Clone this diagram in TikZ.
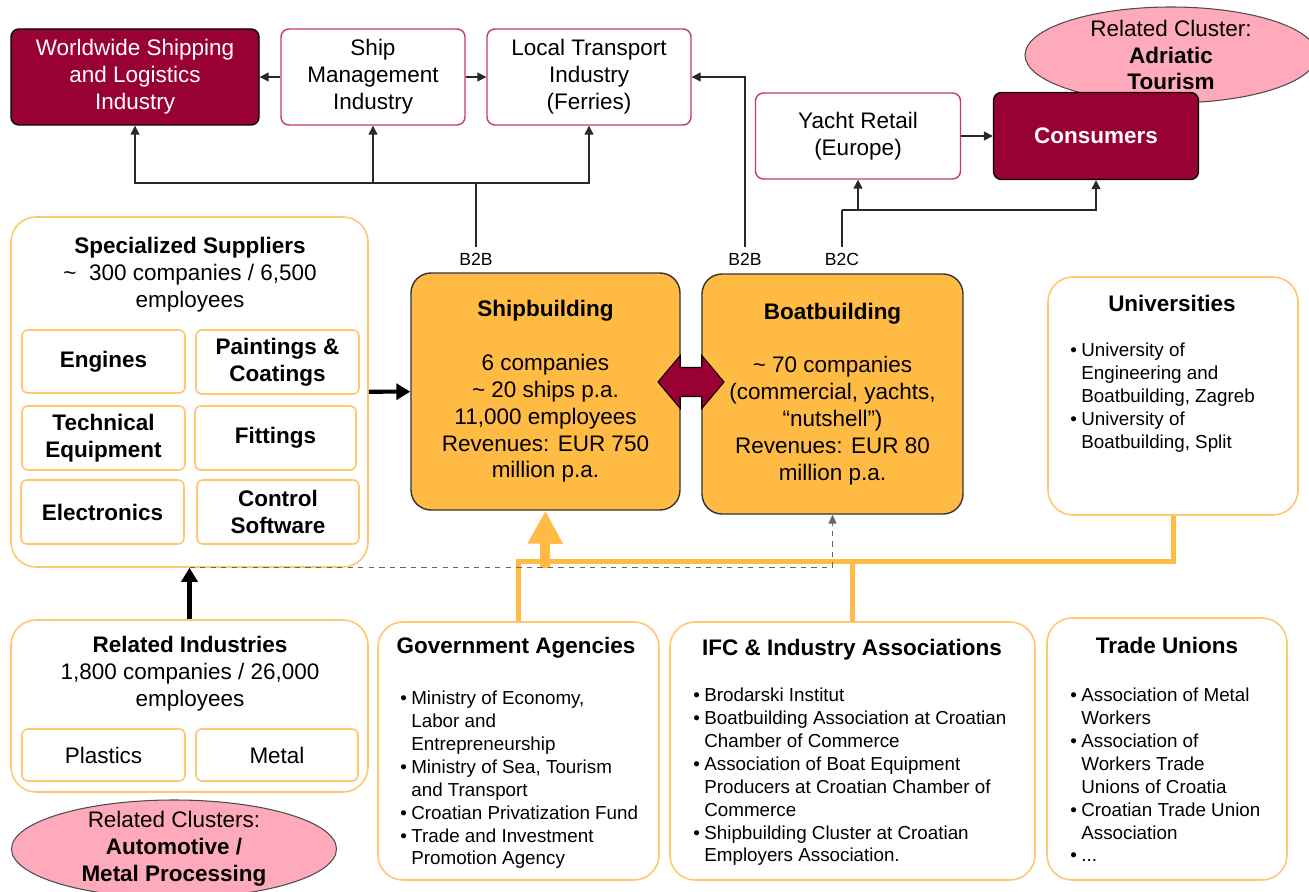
\documentclass[tikz,border=0pt]{standalone}
\usepackage{fontspec}
\setmainfont{Liberation Sans}
\usetikzlibrary{arrows.meta,shapes.geometric,shapes.arrows}

\definecolor{darkred}{RGB}{153,0,51}
\definecolor{boxred}{RGB}{200,60,85}
\definecolor{shipfill}{RGB}{255,187,68}
\definecolor{lightorange}{RGB}{255,200,110}
\definecolor{clusterpink}{RGB}{255,170,187}
\definecolor{linegray}{RGB}{40,40,40}

\newcommand{\mainfs}{\fontsize{12.8}{15.3}\selectfont}
\newcommand{\listfs}{\fontsize{10.7}{13}\selectfont}
\newcommand{\labfs}{\fontsize{10}{12}\selectfont}
\newcommand{\bul}{\makebox[0.22cm][l]{\textbullet}}
\newcommand{\ind}{\hspace*{0.22cm}}

\begin{document}
\begin{tikzpicture}[x=0.02cm,y=-0.02cm,
    wh/.style 2 args={minimum width=#1*0.02cm,minimum height=#2*0.02cm},
    darkbox/.style={draw=black,fill=darkred,text=white,rounded corners=0.16cm,align=center,font=\mainfs,line width=0.8pt},
    redbox/.style={draw=boxred,fill=white,rounded corners=0.16cm,align=center,font=\mainfs,line width=0.8pt},
    corebox/.style={draw=black!80,fill=shipfill,rounded corners=0.4cm,align=center,font=\mainfs,line width=0.8pt},
    groupbox/.style={draw=lightorange,fill=white,rounded corners=0.5cm,line width=0.9pt},
    itembox/.style={draw=lightorange,fill=white,rounded corners=0.12cm,align=center,font=\mainfs\bfseries,line width=0.9pt},
    plainitem/.style={itembox,font=\mainfs},
    cluster/.style={ellipse,draw=black!70,fill=clusterpink,inner sep=0pt,line width=0.6pt},
    title/.style={font=\mainfs\bfseries,inner sep=0pt},
    bullets/.style={anchor=north west,align=left,font=\listfs,inner sep=0pt},
    chan/.style={font=\labfs,inner sep=3pt},
    thinline/.style={draw=linegray,line width=0.8pt},
    thinarrow/.style={thinline,-{Triangle[length=0.18cm,width=0.18cm]}},
    thickarrow/.style={line width=2.3pt,-{Triangle[length=0.28cm,width=0.32cm]}},
    dasharrow/.style={draw=black!60,dashed,line width=0.7pt,-{Triangle[length=0.18cm,width=0.16cm]}},
    orangeline/.style={draw=shipfill,line width=0.1cm},
    orangearrow/.style={draw=shipfill,line width=0.2cm,-{Triangle[length=0.66cm,width=0.66cm]}}]

    \useasboundingbox (0,0) rectangle (1309,892);

    % value chain, top row
    \node[darkbox,wh={248}{96}] (wsl) at (135,77) {Worldwide Shipping\\and Logistics\\Industry};
    \node[redbox,wh={184}{96}] (smi) at (373,77) {Ship\\Management\\Industry};
    \node[redbox,wh={204}{96}] (lti) at (589,77) {Local Transport\\Industry\\(Ferries)};
    \node[cluster,wh={292}{96}] (adr) at (1171,55) {};
    \node[align=center,font=\mainfs] (adrt) at (adr) {Related Cluster:\\\textbf{Adriatic}\\\textbf{Tourism}};
    \node[redbox,wh={205}{86}] (yr) at (858,136) {Yacht Retail\\(Europe)};
    \node[darkbox,wh={205}{87}] (con) at (1096,136) {\textbf{Consumers}};

    \node[chan] (b2bs) at (476,259) {B2B};
    \node[chan] (b2bb) at (745,259) {B2B};
    \node[chan] (b2c) at (842,259) {B2C};

    % core industries
    \node[corebox,wh={269}{237}] (sb) at (545.5,391.5) {\textbf{Shipbuilding}\\[15.3pt]6 companies\\\textasciitilde{} 20 ships p.a.\\11,000 employees\\Revenues: EUR 750\\million p.a.};
    \node[corebox,wh={261}{240}] (bb) at (832.5,394) {\textbf{Boatbuilding}\\[15.3pt]\textasciitilde{} 70 companies\\(commercial, yachts,\\“nutshell”)\\Revenues: EUR 80\\million p.a.};
    \node[double arrow,draw=black,fill=darkred,line width=0.6pt,inner xsep=0pt,inner ysep=0.28cm,
          double arrow head extend=0.24cm,double arrow tip angle=100,minimum height=1.32cm] (dbl) at (691,382) {};

    % suppliers
    \node[groupbox,wh={357}{350}] (ss) at (189.5,392) {};
    \node[align=center,font=\mainfs] (sst) at (190,275) {\textbf{Specialized Suppliers}\\\textasciitilde\ \ 300 companies / 6,500\\employees};
    \node[itembox,wh={163}{63}] (eng) at (103.5,361.5) {Engines};
    \node[itembox,wh={163}{64}] (pnt) at (277.5,362) {Paintings \&\\Coatings};
    \node[itembox,wh={163}{64}] (teq) at (103.5,438) {Technical\\Equipment};
    \node[itembox,wh={161}{64}] (fit) at (275.5,438) {Fittings};
    \node[itembox,wh={163}{64}] (ele) at (102.5,512) {Electronics};
    \node[itembox,wh={162}{64}] (csw) at (278,512) {Control\\Software};

    % universities
    \node[groupbox,wh={250}{238}] (uni) at (1173,396) {};
    \node[title] (unit) at (1172,303) {Universities};
    \node[bullets] (unil) at (1070,343) {\bul University of\\\ind Engineering and\\\ind Boatbuilding, Zagreb\\\bul University of\\\ind Boatbuilding, Split};

    % related industries
    \node[groupbox,wh={357}{172}] (ri) at (189.5,706) {};
    \node[align=center,font=\mainfs] (rit) at (190,674) {\textbf{Related Industries}\\1,800 companies / 26,000\\employees};
    \node[plainitem,wh={163}{52}] (pla) at (103.5,755) {Plastics};
    \node[plainitem,wh={162}{52}] (met) at (277,755) {Metal};
    \node[cluster,wh={325}{98}] (amp) at (174,849) {};
    \node[align=center,font=\mainfs] (ampt) at (amp) {Related Clusters:\\\textbf{Automotive /}\\\textbf{Metal Processing}};

    % institutions
    \node[groupbox,wh={281}{258}] (ga) at (518.5,751) {};
    \node[title] (gat) at (516,648) {Government Agencies};
    \node[bullets] (gal) at (400,691) {\bul Ministry of Economy,\\\ind Labor and\\\ind Entrepreneurship\\\bul Ministry of Sea, Tourism\\\ind and Transport\\\bul Croatian Privatization Fund\\\bul Trade and Investment\\\ind Promotion Agency};
    \node[groupbox,wh={365}{258}] (ifc) at (852.5,751) {};
    \node[title] (ifct) at (852,650) {IFC \& Industry Associations};
    \node[bullets] (ifcl) at (693,688) {\bul Brodarski Institut\\\bul Boatbuilding Association at Croatian\\\ind Chamber of Commerce\\\bul Association of Boat Equipment\\\ind Producers at Croatian Chamber of\\\ind Commerce\\\bul Shipbuilding Cluster at Croatian\\\ind Employers Association.};
    \node[groupbox,wh={240}{262}] (tu) at (1167,749) {};
    \node[title] (tut) at (1167,645) {Trade Unions};
    \node[bullets] (tul) at (1070,688) {\bul Association of Metal\\\ind Workers\\\bul Association of\\\ind Workers Trade\\\ind Unions of Croatia\\\bul Croatian Trade Union\\\ind Association\\\bul ...};

    % B2B / B2C channels
    \coordinate (b2bj) at (476,183);
    \draw[thinline] (b2bs.north) -- (b2bj);
    \draw[thinarrow] (b2bj) -| (wsl.south);
    \draw[thinarrow] (b2bj) -| (smi.south);
    \draw[thinarrow] (b2bj) -| (lti.south);
    \draw[thinarrow] (smi) -- (wsl);
    \draw[thinarrow] (smi) -- (lti);
    \draw[thinarrow] (b2bb.north) |- (lti.east);
    \coordinate (b2cj) at (842,210);
    \draw[thinline] (b2c.north) -- (b2cj);
    \draw[thinarrow] (b2cj) -| (yr.south);
    \draw[thinarrow] (b2cj) -| (con.south);
    \draw[thinarrow] (yr) -- (con);

    % supply links
    \draw[thickarrow] (ss) -- (sb);
    \draw[thickarrow] (ri) -- (ss);

    % institutional support
    \coordinate (oj) at (545,561);
    \draw[orangeline] (ga.north) |- (oj);
    \draw[orangeline] (uni.south) |- (oj);
    \draw[orangeline] (ifc.north) -- (ifc.north |- oj);
    \draw[orangearrow] ([yshift=-0.14cm]oj) -- (sb.south);
    \draw[dasharrow] (ss.south) -| (bb.south);

\end{tikzpicture}
\end{document}
